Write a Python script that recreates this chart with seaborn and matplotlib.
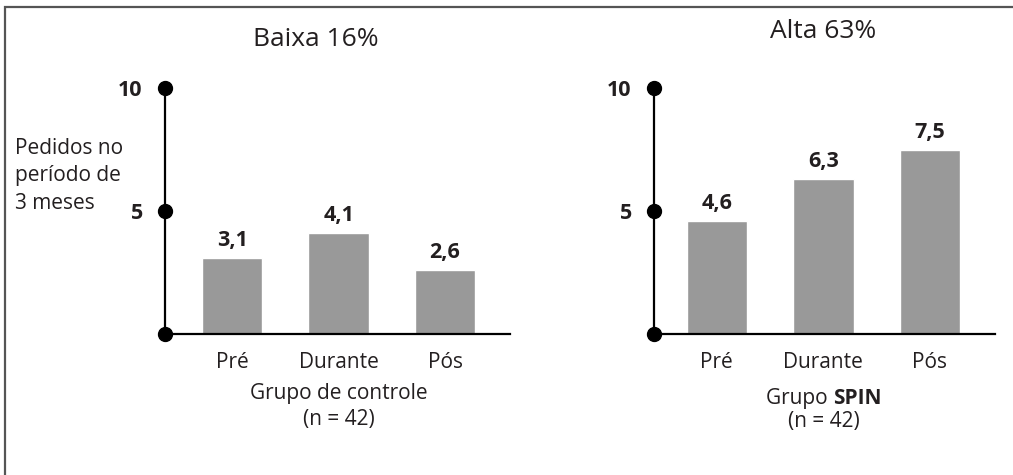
import matplotlib
matplotlib.use('Agg')
import matplotlib.pyplot as plt
import matplotlib.transforms as mtransforms
from matplotlib.patches import Rectangle
import pandas as pd
import seaborn as sns

# data
periods = ["Pré", "Durante", "Pós"]
control_values = [3.1, 4.1, 2.6]
spin_values = [4.6, 6.3, 7.5]
y_ticks = [0, 5, 10]
titles = ["Baixa 16%", "Alta 63%"]

sns.set_theme(style="white")
plt.rcParams['font.family'] = ['Open Sans', 'DejaVu Sans']

BAR = "#999999"
INK = "#231f20"

fig = plt.figure(figsize=(10.13, 4.75), dpi=100)
W, H = 1013, 475

def fx(px):
    return px / W

def fy(py):
    return 1 - py / H

ax_bottom = fy(334)
ax_height = fy(88) - fy(334)
axes = [
    fig.add_axes([fx(165), ax_bottom, fx(510 - 165), ax_height]),
    fig.add_axes([fx(654), ax_bottom, fx(995 - 654), ax_height]),
]
xlims = [(-0.63, 2.61), (-0.59, 2.61)]
series = [control_values, spin_values]

for ax, vals, xl in zip(axes, series, xlims):
    df = pd.DataFrame({"periodo": periods, "pedidos": vals})
    sns.barplot(data=df, x="periodo", y="pedidos", color=BAR, width=0.565,
                saturation=1, ax=ax)
    ax.set_xlim(*xl)
    ax.set_ylim(0, 10)
    sns.despine(ax=ax)
    for s in ["left", "bottom"]:
        ax.spines[s].set_color("black")
        ax.spines[s].set_linewidth(1.6)
    ax.plot([xl[0]] * len(y_ticks), y_ticks, "o", color="black",
            markersize=10, clip_on=False, zorder=5)
    ax.set_yticks(y_ticks[1:])
    ax.set_yticklabels([str(t) for t in y_ticks[1:]], fontsize=15.5,
                       fontweight="bold", color=INK)
    ax.tick_params(axis="y", length=0, pad=16)
    ax.tick_params(axis="x", length=0, pad=13, labelsize=15, labelcolor=INK)
    ax.set_xlabel("")
    ax.set_ylabel("")
    for i, v in enumerate(vals):
        ax.annotate(f"{v:.1f}".replace(".", ","), (i, v), xytext=(0, 5),
                    textcoords="offset points", ha="center", va="bottom",
                    fontsize=15.5, fontweight="bold", color=INK)

# titles
fig.text(fx(316), fy(40), titles[0], ha="center", va="center", fontsize=19, color=INK)
fig.text(fx(823), fy(32), titles[1], ha="center", va="center", fontsize=19, color=INK)

# y label
fig.text(fx(15), fy(176), "Pedidos no\nperíodo de\n3 meses", ha="left",
         va="center", fontsize=15, color=INK, linespacing=1.4)

# group labels
tl = mtransforms.blended_transform_factory(axes[0].transData, fig.transFigure)
fig.text(1, fy(394), "Grupo de controle", transform=tl, ha="center",
         va="center", fontsize=15, color=INK)
fig.text(1, fy(419), "(n = 42)", transform=tl, ha="center", va="center",
         fontsize=15, color=INK)

tr = mtransforms.blended_transform_factory(axes[1].transData, fig.transFigure)
t1 = fig.text(1, fy(404), "Grupo ", transform=tr, ha="left", va="baseline",
              fontsize=15, color=INK)
t2 = fig.text(1, fy(404), "SPIN", transform=tr, ha="left", va="baseline",
              fontsize=15, fontweight="bold", color=INK)
fig.canvas.draw()
r = fig.canvas.get_renderer()
w1 = t1.get_window_extent(r).width
w2 = t2.get_window_extent(r).width
cx = axes[1].transData.transform((1, 0))[0]
start = cx - (w1 + w2) / 2
t1.set_transform(fig.transFigure)
t2.set_transform(fig.transFigure)
t1.set_x(start / W)
t2.set_x((start + w1) / W)
fig.text(1, fy(422), "(n = 42)", transform=tr, ha="center", va="center",
         fontsize=15, color=INK)

# frame
fig.patches.append(Rectangle((fx(5), -0.1), 1.2, fy(7) + 0.1,
                             transform=fig.transFigure, fill=False,
                             edgecolor="#555555", linewidth=1.6))

fig.savefig("out.png", dpi=100)
